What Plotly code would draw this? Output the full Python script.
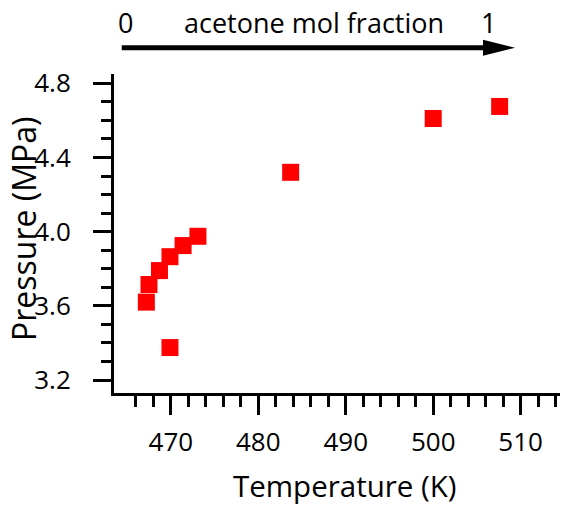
import plotly.graph_objects as go

# Data
temperature_K = [467.2, 467.5, 468.7, 469.9, 471.4, 473.1, 469.9, 483.7, 500.0, 507.6]
pressure_MPa = [3.62, 3.715, 3.79, 3.865, 3.925, 3.975, 3.375, 4.32, 4.61, 4.675]

x_range = [463.5, 514.5]
y_range = [3.13, 4.85]
x_major = [470, 480, 490, 500, 510]
x_minor = list(range(466, 515, 2))
y_major = [3.2, 3.6, 4.0, 4.4, 4.8]
y_minor = [round(3.2 + 0.1 * i, 1) for i in range(17)]

FONT = "Open Sans"
FS = 26

fig = go.Figure()
fig.add_trace(go.Scatter(
    x=temperature_K, y=pressure_MPa, mode="markers",
    marker=dict(symbol="square", size=17, color="#ff0000", line=dict(width=0)),
    showlegend=False, hoverinfo="skip",
))

fig.update_layout(
    width=562, height=506,
    margin=dict(l=114, r=2, t=74, b=113),
    paper_bgcolor="white", plot_bgcolor="white",
    font=dict(family=FONT, size=FS, color="black"),
    xaxis=dict(
        range=x_range, showgrid=False, zeroline=False, automargin=False,
        showline=True, linecolor="black", linewidth=3,
        tickmode="array", tickvals=x_major, ticktext=[str(v) for v in x_major],
        ticks="outside", ticklen=19, tickwidth=3, tickcolor="black",
        ticklabelstandoff=5,
        minor=dict(tickmode="array", tickvals=x_minor, ticks="outside",
                   ticklen=11, tickwidth=3, tickcolor="black", showgrid=False),
        tickfont=dict(family=FONT, size=FS),
    ),
    yaxis=dict(
        range=y_range, showgrid=False, zeroline=False, automargin=False,
        showline=True, linecolor="black", linewidth=3,
        tickmode="array", tickvals=y_major, ticktext=[f"{v:.1f}" for v in y_major],
        ticks="outside", ticklen=18, tickwidth=3, tickcolor="black",
        ticklabelstandoff=17,
        minor=dict(tickmode="array", tickvals=y_minor, ticks="outside",
                   ticklen=10, tickwidth=3, tickcolor="black", showgrid=False),
        tickfont=dict(family=FONT, size=FS),
    ),
)

# Axis titles as annotations (placed like the reference)
fig.add_annotation(text="Temperature (K)", xref="paper", yref="paper",
                   x=(345 - 114) / 446, y=(393 - 485) / 319,
                   xanchor="center", yanchor="middle", showarrow=False,
                   font=dict(family=FONT, size=29.5, color="black"))
fig.add_annotation(text="Pressure (MPa)", xref="paper", yref="paper",
                   x=(23 - 114) / 446, y=(393 - 229) / 319, textangle=-90,
                   xanchor="center", yanchor="middle", showarrow=False,
                   font=dict(family=FONT, size=32, color="black"))

# Composition arrow above the plot (paper coordinates)
fig.add_shape(type="line", xref="paper", yref="paper",
              x0=0.0173, x1=0.83, y0=1.0824, y1=1.0824,
              line=dict(color="black", width=5))
fig.add_shape(type="path", xref="paper", yref="paper",
              path="M 0.8274 1.1075 L 0.8991 1.0824 L 0.8274 1.0574 Z",
              fillcolor="black", line=dict(color="black", width=0))

ann = dict(xref="paper", yref="paper", showarrow=False, xanchor="center",
           font=dict(family=FONT, size=27, color="black"), yanchor="middle")
fig.add_annotation(text="0", x=(125 - 114) / 446, y=1.16, **ann)
fig.add_annotation(text="acetone mol fraction", x=(313.5 - 114) / 446, y=1.16, **ann)
fig.add_annotation(text="1", x=(488 - 114) / 446, y=1.16, **ann)

# remove the default page margin so the figure sits at the window's top-left corner
fig.write_html("out.html", config={"displayModeBar": False},
               post_script="document.body.style.margin='0px';")
